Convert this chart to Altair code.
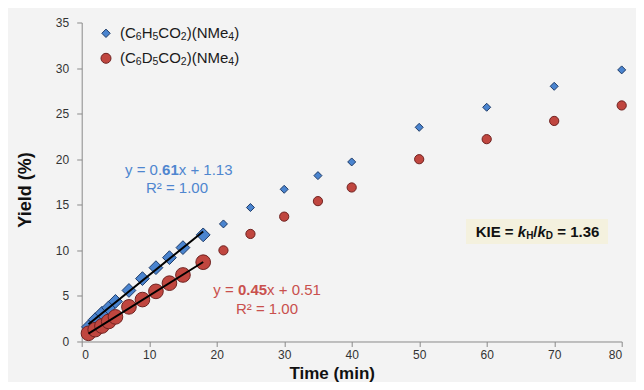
import altair as alt
import pandas as pd

# ---- data ----
t_fit = [1, 2, 3, 4, 5, 7, 9, 11, 13, 15, 18]
h_fit = [1.6, 2.4, 3.1, 3.7, 4.4, 5.6, 6.9, 8.1, 9.2, 10.3, 11.7]
d_fit = [0.9, 1.3, 1.7, 2.2, 2.7, 3.8, 4.6, 5.5, 6.4, 7.3, 8.7]

t_late = [21, 25, 30, 35, 40, 50, 60, 70, 80]
h_late = [12.9, 14.7, 16.7, 18.2, 19.7, 23.5, 25.7, 28.0, 29.8]
d_late = [10.0, 11.8, 13.7, 15.4, 16.9, 20.0, 22.2, 24.2, 25.9]

x_ticks = [0, 10, 20, 30, 40, 50, 60, 70, 80]
y_ticks = [0, 5, 10, 15, 20, 25, 30, 35]

BLUE_FILL, BLUE_EDGE, BLUE_TXT = "#4a84cf", "#1d3a66", "#4f86cf"
RED_FILL, RED_EDGE, RED_TXT = "#c0463f", "#6e2220", "#c9504d"

W, H = 540, 319

xs = alt.Scale(domain=[0, 80], nice=False)
ys = alt.Scale(domain=[0, 35], nice=False)

x_axis = alt.Axis(values=x_ticks, title="Time (min)", titleX=250, titleY=32,
                  titleBaseline="middle", titleAnchor="start", titleAlign="center",
                  labelPadding=3, titleFontSize=17)
y_axis = alt.Axis(values=y_ticks, title="Yield (%)", titleX=-56, titleY=167,
                  titleAngle=270, titleBaseline="middle", titleAlign="center",
                  labelPadding=8)


def pts(times, vals, shape, fill, edge, size):
    d = pd.DataFrame({"time": times, "yield": vals})
    return alt.Chart(d).mark_point(filled=True, opacity=1, strokeWidth=1, shape=shape,
                                   size=size, fill=fill, stroke=edge).encode(
        x=alt.X("time:Q", scale=xs, axis=x_axis),
        y=alt.Y("yield:Q", scale=ys, axis=y_axis),
    )


blue_fit = pts(t_fit, h_fit, "diamond", BLUE_FILL, BLUE_EDGE, 190)
blue_late = pts(t_late, h_late, "diamond", BLUE_FILL, BLUE_EDGE, 64)
red_fit = pts(t_fit, d_fit, "circle", RED_FILL, RED_EDGE, 215)
red_late = pts(t_late, d_late, "circle", RED_FILL, RED_EDGE, 85)

fit_df = pd.concat([
    pd.DataFrame({"time": t_fit, "yield": h_fit, "series": "H"}),
    pd.DataFrame({"time": t_fit, "yield": d_fit, "series": "D"}),
])

fits = alt.Chart(fit_df).transform_regression(
    "time", "yield", groupby=["series"], extent=[1, 18]
).mark_line(color="black", strokeWidth=2).encode(
    x=alt.X("time:Q", scale=xs),
    y=alt.Y("yield:Q", scale=ys),
    detail="series:N",
)

# ---- rich text helper (Arial / Liberation Sans metrics) ----
REG = {' ': .278, '(': .333, ')': .333, '.': .278, '/': .278, '=': .584, '+': .584,
       'C': .722, 'D': .722, 'H': .722, 'O': .778, 'N': .722, 'M': .833, 'e': .556,
       'x': .5, 'y': .5, 'R': .722, '²': .333, 'K': .667, 'I': .278, 'E': .667, 'k': .5}
BOLD = {' ': .278, '.': .278, '/': .278, '=': .584, '+': .584, 'K': .722, 'I': .278,
        'E': .667, 'k': .556, 'H': .722, 'D': .722, 'x': .556, 'y': .556}


def tw(s, size, bold):
    tbl = BOLD if bold else REG
    return sum((.556 if c.isdigit() else tbl.get(c, REG.get(c, .556))) for c in s) * size


text_rows = []


def rich(segs, x0, y, color):
    x = x0
    for txt, style, size, dy in segs:
        bold = style != "n"
        lead = len(txt) - len(txt.lstrip(" "))
        xs_ = x + tw(" " * lead, size, bold)
        text_rows.append({"txt": txt.strip(), "px": xs_, "py": y + dy, "fs": size,
                          "col": color, "st": style})
        x += tw(txt, size, bold)
    return x


def centered(txt, cx, y, size, color):
    w = tw(txt, size, False)
    rich([(txt, "n", size, 0)], cx - w / 2, y, color)


# equations
rich([("y = 0.", "n", 15, 0), ("61", "b", 15, 0), ("x + 1.13", "n", 15, 0)], 43.3, 147.5, BLUE_TXT)
centered("R² = 1.00", 97, 165.5, 15, BLUE_TXT)
rich([("y = ", "n", 15, 0), ("0.45", "b", 15, 0), ("x + 0.51", "n", 15, 0)], 131.6, 267.5, RED_TXT)
centered("R² = 1.00", 187, 286.8, 15, RED_TXT)

# KIE
rich([("KIE = ", "b", 15, 0), ("k", "bi", 15, 0), ("H", "b", 10, 4), ("/", "b", 15, 0),
      ("k", "bi", 15, 0), ("D", "b", 10, 4), (" = 1.36", "b", 15, 0)], 394, 209.2, "#111111")

# legend
for yy, iso in [(10.8, "H"), (35.8, "D")]:
    rich([("(C", "n", 15, 0), ("6", "n", 10.5, 4), (iso, "n", 15, 0), ("5", "n", 10.5, 4),
          ("CO", "n", 15, 0), ("2", "n", 10.5, 4), (")(NMe", "n", 15, 0), ("4", "n", 10.5, 4),
          (")", "n", 15, 0)], 38.3, yy, "#1a1a1a")

tdf = pd.DataFrame(text_rows)


def text_layer(style, weight, fstyle):
    sub = tdf[tdf["st"] == style]
    return alt.Chart(sub).mark_text(align="left", baseline="middle", fontWeight=weight,
                                    fontStyle=fstyle, font="Liberation Sans").encode(
        x=alt.X("px:Q", scale=None),
        y=alt.Y("py:Q", scale=None),
        size=alt.Size("fs:Q", scale=None, legend=None),
        color=alt.Color("col:N", scale=None, legend=None),
        text="txt:N",
    )


texts = text_layer("n", "normal", "normal") + text_layer("b", "bold", "normal") + \
    text_layer("bi", "bold", "italic")

kie_box = alt.Chart(pd.DataFrame({"a": [0]})).mark_rect(color="#f4f1de").encode(
    x=alt.value(384.3), x2=alt.value(526.3), y=alt.value(196.5), y2=alt.value(221.5))


def leg_pt(shape, fill, edge, size, yy):
    return alt.Chart(pd.DataFrame({"a": [0]})).mark_point(
        filled=True, opacity=1, strokeWidth=1, shape=shape, size=size, fill=fill, stroke=edge
    ).encode(x=alt.value(24.3), y=alt.value(yy))


legend_pts = leg_pt("diamond", BLUE_FILL, BLUE_EDGE, 70, 10.8) + \
    leg_pt("circle", RED_FILL, RED_EDGE, 100, 35.8)

chart = alt.layer(kie_box, blue_fit, blue_late, red_fit, red_late, fits, legend_pts, texts).properties(
    width=W, height=H,
    autosize=alt.AutoSizeParams(type="none"),
    padding={"left": 73.7, "top": 14.5, "right": 14, "bottom": 40.5},
    background="#f3f3f3",
).configure_view(stroke=None).configure_axis(
    grid=False,
    domainColor="#8a8a8a",
    tickColor="#8a8a8a",
    tickSize=5,
    labelFont="Liberation Sans",
    labelFontSize=12,
    labelColor="#333333",
    titleFont="Liberation Sans",
    titleFontSize=18,
    titleFontWeight="bold",
    titleColor="#111111",
)

chart.save("out.html", embed_options={"renderer": "svg", "actions": False})
